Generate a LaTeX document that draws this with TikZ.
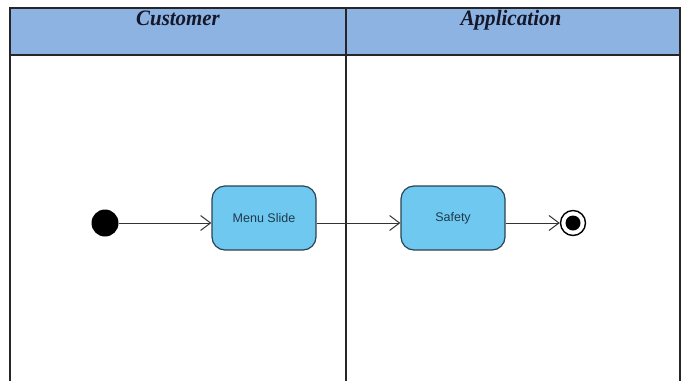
\documentclass[tikz,border=0pt]{standalone}
\usepackage{fontspec}
\setmainfont{Liberation Serif}
\newfontfamily\boxfont{Liberation Sans}
\usetikzlibrary{arrows.meta}
\definecolor{hdr}{HTML}{8DB3E2}
\definecolor{actfill}{HTML}{6EC8F0}
\definecolor{actline}{HTML}{2A4452}
\definecolor{acttext}{HTML}{1F3A4A}
\definecolor{hdrink}{HTML}{14182A}
\begin{document}
\begin{tikzpicture}[x=1pt,y=-1pt,
  lane/.style={draw=black!85, line width=1.1pt},
  act/.style={draw=actline, line width=1.2pt, fill=actfill, rounded corners=13pt,
    minimum width=104pt, minimum height=64pt, font=\boxfont\fontsize{12.5}{14}\selectfont, text=acttext},
  flow/.style={draw=black!80, line width=1pt, -{Straight Barb[length=10pt,width=15pt,line width=1pt]}},
  hdrtext/.style={font=\bfseries\itshape\fontsize{22}{24}\selectfont, text=hdrink, anchor=base}]
\useasboundingbox (0,0) rectangle (687,381);
\fill[hdr] (10,8) rectangle (680,55);
\draw[lane] (10,381) -- (10,8) -- (680,8) -- (680,381);
\draw[lane] (10,55) -- (680,55);
\draw[lane] (346,8) -- (346,381);
\node[hdrtext] (h1) at (178,25) {\scalebox{0.95}[1]{Customer}};
\node[hdrtext] (h2) at (511,25) {\scalebox{0.96}[1]{Application}};
\node[circle, fill=black, minimum size=27pt, inner sep=0pt] (init) at (105,223) {};
\node[act] (menu) at (264,218) {Menu Slide};
\node[act] (safe) at (453,218) {Safety};
\node[circle, draw=black, line width=1.4pt, fill=white, minimum size=25pt, inner sep=0pt] (fin) at (573,223) {};
\node[circle, fill=black, minimum size=15pt, inner sep=0pt] (finin) at (fin.center) {};
\draw[flow] (init.east) -- (menu.west |- init.east);
\draw[flow] (menu.east |- init.east) -- (safe.west |- init.east);
\draw[flow] (safe.east |- init.east) -- (fin.west);
\end{tikzpicture}
\end{document}
